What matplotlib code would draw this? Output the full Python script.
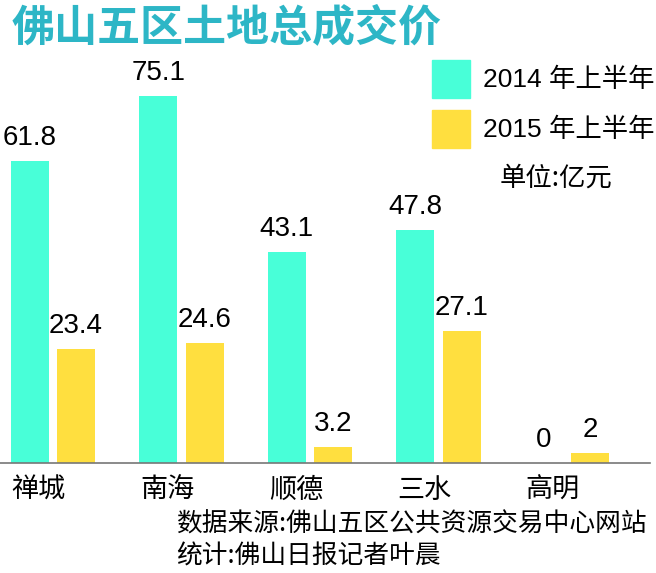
import numpy as np
import matplotlib as mpl
mpl.use('Agg')
import matplotlib.pyplot as plt
from matplotlib.patches import Patch

CJK = ['Noto Sans CJK SC', 'DejaVu Sans']
NUM = ['Liberation Sans', 'Noto Sans CJK SC']
plt.rcParams['font.family'] = CJK

districts = ['禅城', '南海', '顺德', '三水', '高明']
h1_2014 = [61.8, 75.1, 43.1, 47.8, 0]
h1_2015 = [23.4, 24.6, 3.2, 27.1, 2]
series_names = ['2014 年上半年', '2015 年上半年']
title = '佛山五区土地总成交价'
unit = '单位:亿元'
source = '数据来源:佛山五区公共资源交易中心网站'
author = '统计:佛山日报记者叶晨'

C14 = '#48FFD8'
C15 = '#FFDF3F'

fig = plt.figure(figsize=(6.56, 5.73), dpi=100)
ax = fig.add_axes([0, 110/573, 650/656, 403/573])

pos = np.arange(len(districts))
w = 0.296
off = 0.18
b1 = ax.bar(pos - off, h1_2014, width=w, color=C14)
b2 = ax.bar(pos + off, h1_2015, width=w, color=C15)

for bars, vals in ((b1, h1_2014), (b2, h1_2015)):
    for r, v in zip(bars, vals):
        ax.annotate(f'{v:g}', (r.get_x() + r.get_width()/2, v),
                    xytext=(0, 10), textcoords='offset pixels',
                    ha='center', va='bottom', fontsize=20, family=NUM)

ax.set_xlim(-0.412, 4.646)
ax.set_ylim(0, 82.5)
ax.set_xticks(pos - 0.11)
ax.set_xticklabels(districts, fontsize=19.5)
ax.tick_params(axis='x', length=0, pad=10)
ax.set_yticks([])
for s in ['top', 'right', 'left']:
    ax.spines[s].set_visible(False)
ax.spines['bottom'].set_color('#777777')
ax.spines['bottom'].set_linewidth(1.2)

handles = [Patch(color=C14), Patch(color=C15)]
fig.legend(handles, series_names, loc='upper left',
           bbox_to_anchor=(432/656, 1 - 60/573), frameon=False,
           borderpad=0, borderaxespad=0, handlelength=1.44, handleheight=1.84,
           handletextpad=0.5, labelspacing=0.45,
           prop={'family': NUM, 'size': 19})

fig.text(12/656, 1 - 27/573, title, fontsize=31, fontweight='bold',
         color='#2DB6C6', ha='left', va='center')
fig.text(500/656, 1 - 178/573, unit, fontsize=19, ha='left', va='center')
fig.text(176/656, 1 - 525/573, source, fontsize=18.5, ha='left', va='center')
fig.text(176/656, 1 - 557/573, author, fontsize=18.5, ha='left', va='center')

fig.savefig('out.png', dpi=100)
